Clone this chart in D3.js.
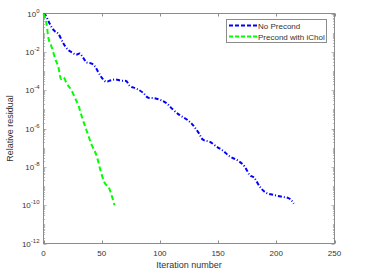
<!DOCTYPE html>
<html>
<head>
<meta charset="utf-8">
<script src="https://cdn.jsdelivr.net/npm/d3@7"></script>
<style>
  body { margin: 0; background: #fff; }
  text { font-family: "Liberation Sans", Arial, sans-serif; fill: #333; }
</style>
</head>
<body>
<svg width="365" height="274"></svg>
<script>
// no preconditioner: iteration, residual
var plainIter = [0, 2, 5, 9, 13, 17, 21, 25, 28, 31, 34, 37, 41, 44, 47, 50, 54, 58, 62, 66, 71, 74, 80, 86, 90, 95, 101, 106, 111, 117, 124, 128, 133, 137, 143, 149, 154, 160, 167, 173, 177, 181, 186, 191, 197, 204, 210, 213, 215];
var plainRes = [1, 7.6e-1, 3.2e-1, 1.3e-1, 8.3e-2, 2.8e-2, 1.3e-2, 8.9e-3, 7.1e-3, 8.3e-3, 5.0e-3, 2.8e-3, 2.5e-3, 1.8e-3, 8.9e-4, 4.5e-4, 2.8e-4, 3.3e-4, 3.6e-4, 3.2e-4, 3.0e-4, 1.7e-4, 1.2e-4, 6.9e-5, 4.0e-5, 3.8e-5, 3.0e-5, 2.0e-5, 1.0e-5, 5.0e-6, 2.7e-6, 1.6e-6, 6.3e-7, 2.6e-7, 2.0e-7, 1.1e-7, 7.1e-8, 3.5e-8, 2.1e-8, 1.0e-8, 3.8e-9, 2.7e-9, 8.9e-10, 4.5e-10, 3.5e-10, 2.8e-10, 2.4e-10, 1.8e-10, 1.2e-10];
// with incomplete Cholesky
var cholIter = [0, 3, 4, 7, 10, 13, 15, 17, 20, 24, 27, 30, 33, 37, 39, 41, 46, 49, 53, 56, 59, 61];
var cholRes = [1, 2.0e-1, 6.3e-2, 1.8e-2, 4.5e-3, 1.4e-3, 3.8e-4, 4.8e-4, 2.2e-4, 1.0e-4, 4.0e-5, 1.6e-5, 4.0e-6, 7.9e-7, 3.5e-7, 1.6e-7, 3.2e-8, 6.3e-9, 1.3e-9, 8.7e-10, 2.6e-10, 1.0e-10];

var seriesNames = ["No Precond", "Precond with iChol"];
var xTicks = [0, 50, 100, 150, 200, 250];
var yExps = [0, -2, -4, -6, -8, -10, -12];

var svg = d3.select("svg"),
    pLeft = 43.5, pRight = 334.5, pTop = 13.5, pBottom = 243.5;

var x = d3.scaleLinear().domain([0, 250]).range([pLeft, pRight]);
var y = d3.scaleLog().domain([1e-12, 1]).range([pBottom, pTop]);

var axisColor = "#8c8c8c";

// frame
svg.append("rect")
    .attr("x", pLeft).attr("y", pTop)
    .attr("width", pRight - pLeft).attr("height", pBottom - pTop)
    .attr("fill", "none").attr("stroke", axisColor).attr("stroke-width", 1);

// x ticks, bottom and top, pointing inwards
xTicks.forEach(function(t) {
  var px = Math.round(x(t)) + 0.5;
  svg.append("line").attr("x1", px).attr("x2", px).attr("y1", pBottom).attr("y2", pBottom - 3)
      .attr("stroke", axisColor).attr("stroke-width", 1);
  svg.append("line").attr("x1", px).attr("x2", px).attr("y1", pTop).attr("y2", pTop + 3)
      .attr("stroke", axisColor).attr("stroke-width", 1);
  svg.append("text").attr("x", x(t)).attr("y", pBottom + 12)
      .attr("text-anchor", "middle").attr("font-size", 8).text(t);
});

// y ticks, log axis with minor ticks
for (var e = -12; e <= 0; e++) {
  for (var m = 1; m < 10; m++) {
    if (e === 0 && m > 1) break;
    var v = m * Math.pow(10, e);
    var py = Math.round(y(v)) + 0.5;
    var len = (m === 1 && e % 2 === 0) ? 3 : 1.6;
    svg.append("line").attr("x1", pLeft).attr("x2", pLeft + len).attr("y1", py).attr("y2", py)
        .attr("stroke", axisColor).attr("stroke-width", 0.6);
    svg.append("line").attr("x1", pRight).attr("x2", pRight - len).attr("y1", py).attr("y2", py)
        .attr("stroke", axisColor).attr("stroke-width", 0.6);
  }
}

yExps.forEach(function(k) {
  var lbl = svg.append("text").attr("x", pLeft - 4).attr("y", y(Math.pow(10, k)) + 3)
      .attr("text-anchor", "end").attr("font-size", 8);
  lbl.append("tspan").text("10");
  lbl.append("tspan").attr("dy", -4).attr("font-size", 6).text(k);
});

// axis labels
svg.append("text").attr("x", (pLeft + pRight) / 2).attr("y", 268)
    .attr("text-anchor", "middle").attr("font-size", 9).text("Iteration number");
svg.append("text").attr("transform", "translate(13," + ((pTop + pBottom) / 2) + ") rotate(-90)")
    .attr("text-anchor", "middle").attr("font-size", 9).text("Relative residual");

var line = d3.line()
    .x(function(d) { return x(d[0]); })
    .y(function(d) { return y(d[1]); })
    .curve(d3.curveMonotoneX);

var series = [
  { pts: d3.zip(plainIter, plainRes), color: "#0000ff", dash: "4,2,1,2" },
  { pts: d3.zip(cholIter, cholRes), color: "#00ff00", dash: "5,3" }
];

series.forEach(function(s) {
  svg.append("path").datum(s.pts).attr("d", line)
      .attr("fill", "none").attr("stroke", s.color).attr("stroke-width", 2)
      .attr("stroke-dasharray", s.dash);
});

// legend
var lg = svg.append("g");
lg.append("rect").attr("x", 226.5).attr("y", 19.5).attr("width", 100).attr("height", 23)
    .attr("fill", "#fff").attr("stroke", axisColor).attr("stroke-width", 1);
series.forEach(function(s, i) {
  var ly = 25.5 + i * 11;
  lg.append("line").attr("x1", 229).attr("x2", 257).attr("y1", ly).attr("y2", ly)
      .attr("stroke", s.color).attr("stroke-width", 2).attr("stroke-dasharray", "4,2");
  lg.append("text").attr("x", 258).attr("y", ly + 3).attr("font-size", 8).text(seriesNames[i]);
});
</script>
</body>
</html>
